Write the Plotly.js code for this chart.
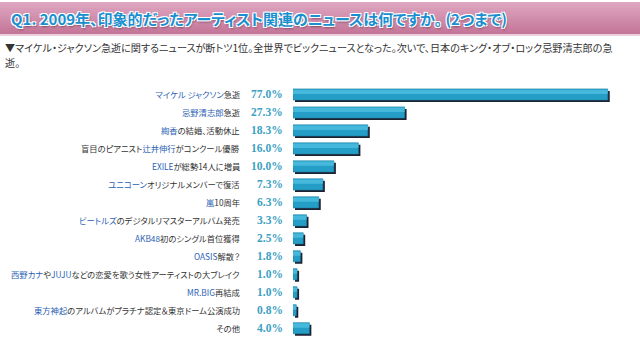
<!DOCTYPE html>
<html><head><meta charset="utf-8">
<script src="https://cdn.plot.ly/plotly-3.0.1.min.js"></script>
<style>
html,body{margin:0;padding:0;background:#fff;}
#chart{width:640px;height:352px;}
svg text{font-feature-settings:"palt" 1;}
</style></head><body><div id="chart"></div>
<script>
const categories = [
  "マイケル ジャクソン急逝",
  "忌野清志郎急逝",
  "絢香の結婚、活動休止",
  "盲目のピアニスト辻井伸行がコンクール優勝",
  "EXILEが総勢14人に増員",
  "ユニコーンオリジナルメンバーで復活",
  "嵐10周年",
  "ビートルズのデジタルリマスターアルバム発売",
  "AKB48初のシングル首位獲得",
  "OASIS解散？",
  "西野カナやJUJUなどの恋愛を歌う女性アーティストの大ブレイク",
  "MR.BIG再結成",
  "東方神起のアルバムがプラチナ認定＆東京ドーム公演成功",
  "その他"
];
const highlights = [
  ["マイケル ジャクソン"], ["忌野清志郎"], ["絢香"], ["辻井伸行"], ["EXILE"],
  ["ユニコーン"], ["嵐"], ["ビートルズ"], ["AKB48"], ["OASIS"],
  ["西野カナ", "JUJU"], ["MR.BIG"], ["東方神起"], []
];
const values = [77.0, 27.3, 18.3, 16.0, 10.0, 7.3, 6.3, 3.3, 2.5, 1.8, 1.0, 1.0, 0.8, 4.0];
const titleText = "Q1. 2009年、印象的だったアーティスト関連のニュースは何ですか。 (2つまで)";
const subtitleLines = [
  "▼マイケル・ジャクソン急逝に関するニュースが断トツ1位。全世界でビックニュースとなった。次いで、日本のキング・オブ・ロック忌野清志郎の急",
  "逝。"
];

const W = 640, H = 352;
const px = x => x / W;
const py = y => 1 - y / H;
const xDom = [px(293), px(620)];
const yDom = [py(337.2), py(85.5)];
const sh = 2;

function richLabel(text, hs) {
  let out = text;
  hs.forEach(h => { out = out.replace(h, '<span style="color:#2b5fb4">' + h + '</span>'); });
  return out;
}

const shadow = {
  type: 'bar', orientation: 'h', x: values, y: categories,
  xaxis: 'x', yaxis: 'y', width: 0.62,
  marker: {color: '#1d2130'}, hoverinfo: 'skip', showlegend: false
};
const bars = {
  type: 'bar', orientation: 'h', x: values, y: categories,
  xaxis: 'x2', yaxis: 'y2', width: 0.62,
  marker: {color: '#249ec6', line: {color: '#1c80a6', width: 0.6}},
  showlegend: false
};
const shine = {
  type: 'bar', orientation: 'h', x: values, y: categories,
  xaxis: 'x2', yaxis: 'y2', width: 0.24, offset: -0.27,
  marker: {color: '#45b8dc', line: {width: 0}}, hoverinfo: 'skip', showlegend: false
};

const axX = {range: [0, 80], showgrid: false, zeroline: false, showticklabels: false, showline: false, fixedrange: true};
const axY = {type: 'category', range: [13.5, -0.5], showgrid: false, zeroline: false, showticklabels: false, showline: false, ticks: ''};

const annotations = [];
categories.forEach((c, i) => {
  annotations.push({
    xref: 'paper', yref: 'y2', x: px(242), y: c, xanchor: 'right', yanchor: 'middle',
    text: richLabel(c, highlights[i]), showarrow: false,
    font: {family: '"Noto Sans CJK JP", sans-serif', size: 8.3, color: '#333333'}
  });
  annotations.push({
    xref: 'paper', yref: 'y2', x: px(285), y: c, xanchor: 'right', yanchor: 'middle',
    text: values[i].toFixed(1) + '%', showarrow: false,
    font: {family: '"Liberation Serif", serif', size: 11.5, color: '#3c9fc3', weight: 'bold'}
  });
});
annotations.push({
  xref: 'paper', yref: 'paper', x: px(9), y: py(18), xanchor: 'left', yanchor: 'middle',
  text: titleText, showarrow: false,
  font: {family: '"Noto Sans CJK JP", sans-serif', size: 15, color: '#1a8fcf', weight: 'bold',
         shadow: '1px 1px 0 #fff, -1px -1px 0 #fff, 1px -1px 0 #fff, -1px 1px 0 #fff, 1px 2px 2px rgba(60,30,50,0.5)'}
});
[47, 62].forEach((yy, k) => {
  annotations.push({
    xref: 'paper', yref: 'paper', x: px(3), y: py(yy), xanchor: 'left', yanchor: 'middle',
    align: 'left', text: subtitleLines[k], showarrow: false,
    font: {family: '"Noto Sans CJK JP", sans-serif', size: 10.1, color: '#333333'}
  });
});

// banner gradient bands
const shapes = [];
const bTop = 2, bBottom = 34, nBands = 16;
const c0 = [222, 166, 192], c1 = [196, 118, 152];
for (let k = 0; k < nBands; k++) {
  const t = k / (nBands - 1);
  const c = c0.map((v, j) => Math.round(v + (c1[j] - v) * t));
  shapes.push({type: 'rect', xref: 'paper', yref: 'paper', layer: 'below',
    x0: 0, x1: 1, y0: py(bTop + (bBottom - bTop) * (k + 1) / nBands + 0.3), y1: py(bTop + (bBottom - bTop) * k / nBands),
    line: {width: 0}, fillcolor: 'rgb(' + c.join(',') + ')'});
}
shapes.push({type: 'rect', xref: 'paper', yref: 'paper', layer: 'below', x0: 0, x1: 1,
  y0: py(36), y1: py(34), line: {width: 0}, fillcolor: '#ead0da'});

const layout = {
  width: W, height: H, margin: {l: 0, r: 0, t: 0, b: 0},
  paper_bgcolor: '#ffffff', plot_bgcolor: 'rgba(0,0,0,0)',
  barmode: 'overlay', showlegend: false,
  xaxis: Object.assign({}, axX, {domain: [xDom[0] + sh / W, xDom[1] + sh / W], anchor: 'y'}),
  yaxis: Object.assign({}, axY, {domain: [yDom[0] - sh / H, yDom[1] - sh / H], anchor: 'x'}),
  xaxis2: Object.assign({}, axX, {domain: xDom, anchor: 'y2'}),
  yaxis2: Object.assign({}, axY, {domain: yDom, anchor: 'x2'}),
  annotations: annotations, shapes: shapes
};

Plotly.newPlot('chart', [shadow, bars, shine], layout, {displayModeBar: false, staticPlot: true});
</script></body></html>
